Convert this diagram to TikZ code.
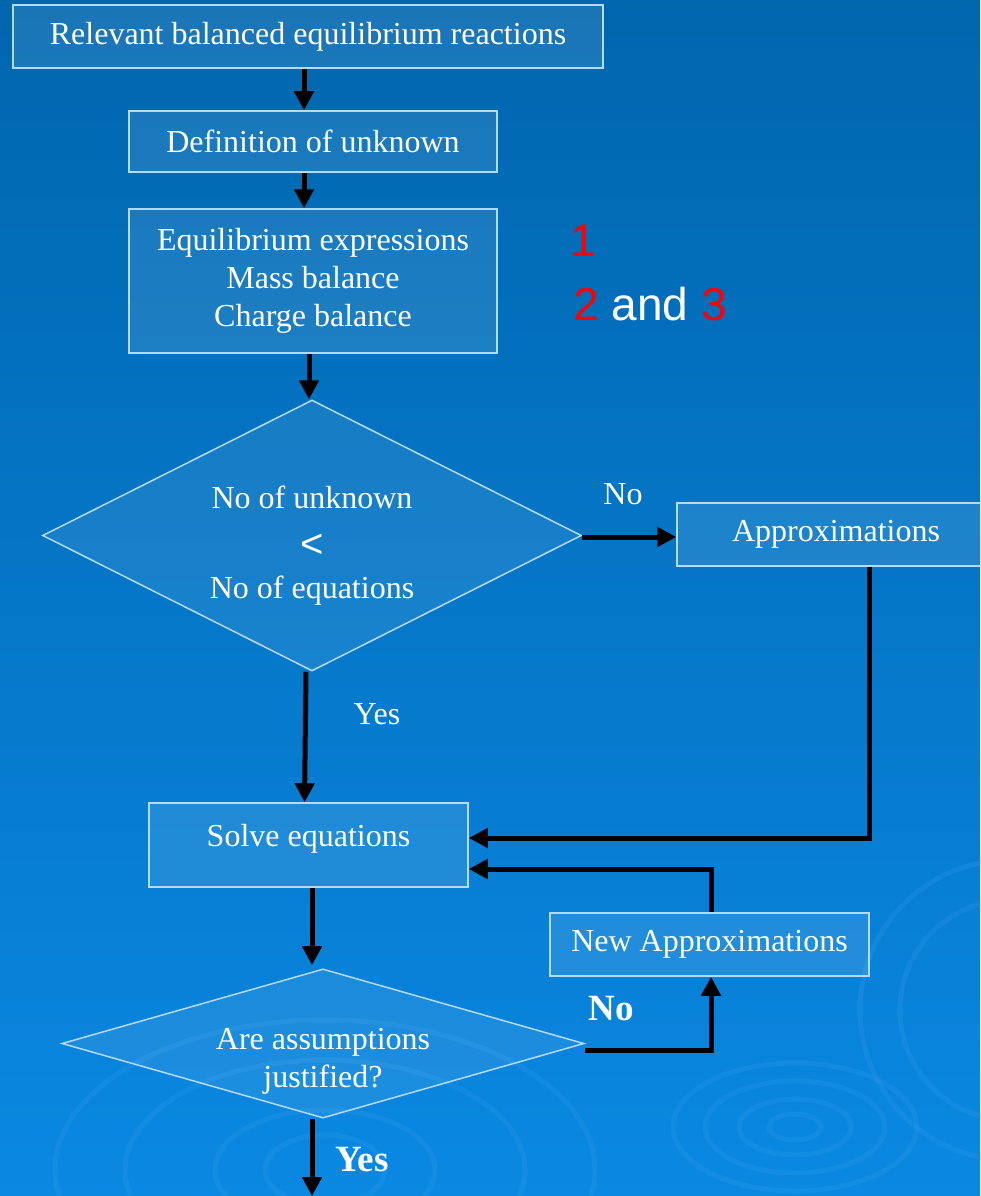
\documentclass[tikz,border=0pt]{standalone}
\usepackage{fontspec}
\setmainfont{Liberation Serif}
\newfontfamily\arialfont{Liberation Sans}
\usepackage{tikz}
\usetikzlibrary{shapes.geometric}
\usetikzlibrary{arrows.meta}
\definecolor{bgtop}{HTML}{0066AE}
\definecolor{bgbot}{HTML}{0A88E2}
\definecolor{edge}{HTML}{B5DAF5}
\definecolor{ring}{HTML}{3FA2F2}
\tikzstyle{procbox}=[rectangle,draw=edge,line width=1.5pt,fill=white,fill opacity=0.1,text opacity=1,text=white,inner sep=0pt,font=\fontsize{32}{38}\selectfont,align=center]
\tikzstyle{decide}=[diamond,draw=edge,line width=1.5pt,fill=white,fill opacity=0.08,text opacity=1,text=white,inner sep=0pt,font=\fontsize{32}{38}\selectfont,align=center]
\tikzstyle{lbl}=[text=white,font=\fontsize{32}{38}\selectfont]
\tikzstyle{flow}=[->,>={Triangle[length=19pt,width=19pt]},line width=5pt,black]
\begin{document}
\begin{tikzpicture}[x=1pt,y=-1pt]
    \useasboundingbox (0,0) rectangle (980,1196);
    \shade[top color=bgtop,bottom color=bgbot] (0,0) rectangle (980,1196);
    % faint rings in the background
    \begin{scope}[draw=ring,opacity=0.2,line width=5pt]
      \draw (795,1127) ellipse (26 and 13);
      \draw (795,1127) ellipse (56 and 28);
      \draw (795,1127) ellipse (90 and 46);
      \draw (795,1127) ellipse (122 and 64);
      \draw (1010,1010) circle (110);
      \draw (1010,1010) circle (150);
      \draw (325,1170) ellipse (60 and 35);
      \draw (325,1170) ellipse (110 and 60);
      \draw (325,1170) ellipse (200 and 110);
      \draw (325,1170) ellipse (270 and 150);
    \end{scope}
    \node[procbox,minimum width=590pt,minimum height=63pt] at (308,36.5) (relv) {Relevant balanced equilibrium reactions};
    \node[procbox,minimum width=368pt,minimum height=61pt] at (313,141.5) (defn) {Definition of unknown};
    \node[procbox,minimum width=368pt,minimum height=144pt] at (313,281) (eqns) {Equilibrium expressions\\Mass balance\\Charge balance};
    \node[text=red,font=\arialfont\fontsize{46}{46}\selectfont] at (583,241) (one) {1};
    \node[text=white,font=\arialfont\fontsize{46}{46}\selectfont] at (650,304) (twothree) {\textcolor{red}{2} and \textcolor{red}{3}};
    \node[decide,aspect=2,minimum width=539pt,minimum height=271pt,text height=140pt,text depth=15pt] at (312,535.5) (count) {No of unknown\\[11pt]{\arialfont\fontsize{40}{40}\selectfont <}\\[3pt]No of equations};
    \node[procbox,minimum width=318pt,minimum height=63pt] at (836,534.5) (approx) {Approximations};
    \node[procbox,minimum width=319pt,minimum height=84pt,text depth=20pt] at (308.5,845) (solve) {Solve equations};
    \node[procbox,minimum width=319pt,minimum height=63pt] at (709.5,944.5) (newap) {New Approximations};
    \node[decide,aspect=3.5,minimum width=517pt,minimum height=145pt,text height=88pt,text depth=-27pt] at (323,1043.5) (check) {Are assumptions\\justified?};
    \node[lbl] at (623,494) (no1) {No};
    \node[lbl] at (377,714) (yes1) {Yes};
    \node[lbl,font=\fontsize{37}{40}\selectfont\bfseries] at (611,1009) (no2) {No};
    \node[lbl,font=\fontsize{37}{40}\selectfont\bfseries] at (362,1160) (yes2) {Yes};
    \coordinate (out) at (312,1196);
    \draw[flow] ([xshift=-4pt]relv.south) -- ([xshift=-9pt]defn.north);
    \draw[flow] ([xshift=-9pt]defn.south) -- ([xshift=-9pt]eqns.north);
    \draw[flow] ([xshift=-4pt]eqns.south) -- ([xshift=-3pt]count.north);
    \draw[flow] ([yshift=-1.5pt]count.east) -- ([yshift=-2.5pt]approx.west);
    \draw[flow] ([xshift=-6pt]count.south) -- ([xshift=-4pt]solve.north);
    \draw[flow] ([xshift=33pt]approx.south) |- ([yshift=7pt]solve.east);
    \draw[flow] ([xshift=1.5pt]newap.north) |- ([yshift=-24pt]solve.east);
    \draw[flow] ([xshift=3.5pt]solve.south) -- ([xshift=-11pt,yshift=3pt]check.north);
    \draw[flow] ([yshift=-6.5pt]check.east) -| ([xshift=1.5pt]newap.south);
    \draw[flow] ([xshift=-11pt]check.south) -- (out);
  \end{tikzpicture}
\end{document}
